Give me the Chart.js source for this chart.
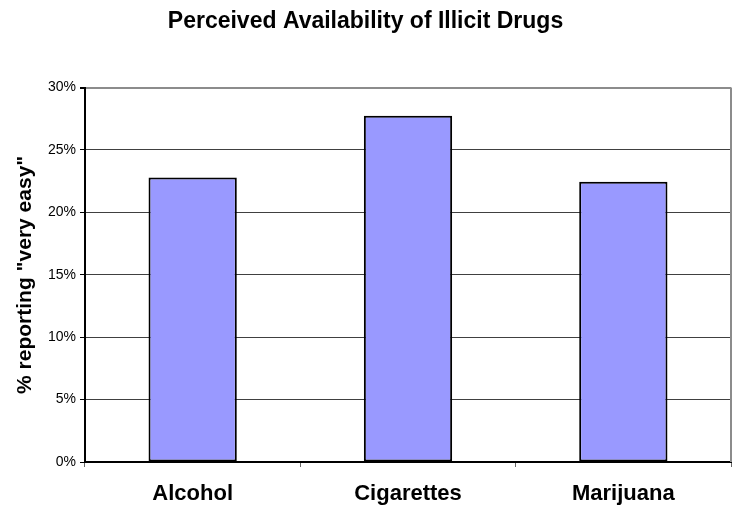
<!DOCTYPE html>
<html>
<head>
<meta charset="utf-8">
<script src="https://cdn.jsdelivr.net/npm/chart.js@4"></script>
<style>
    html, body { margin: 0; padding: 0; background: #fff; }
    #wrap { width: 737px; height: 506px; }
</style>
</head>
<body>
<div id="wrap"><canvas id="drugChart"></canvas></div>
<script>
var categories = ["Alcohol", "Cigarettes", "Marijuana"];
var veryEasy = [22.8, 27.75, 22.45];
var yTicks = [0, 5, 10, 15, 20, 25, 30];

// frame on the right side of the plot, like the excel chart
var frameRight = {
    id: 'frameRight',
    afterDatasetsDraw: function (chart) {
        var a = chart.chartArea, ctx = chart.ctx;
        ctx.save();
        ctx.strokeStyle = '#8c8c8c';
        ctx.lineWidth = 2;
        ctx.beginPath();
        ctx.moveTo(a.right, a.top);
        ctx.lineTo(a.right, a.bottom);
        ctx.stroke();
        ctx.restore();
    }
};

var ctx = document.getElementById("drugChart");
var drugChart = new Chart(ctx, {
    type: 'bar',
    data: {
        labels: categories,
        datasets: [{
            label: '% reporting "very easy"',
            data: veryEasy,
            backgroundColor: '#9999ff',
            borderColor: '#000000',
            borderWidth: 2,
            borderSkipped: false,
            categoryPercentage: 1,
            barPercentage: 0.41
        }]
    },
    options: {
        responsive: true,
        maintainAspectRatio: false,
        animation: false,
        layout: { padding: { left: 0, right: 6, top: 0, bottom: 0 } },
        plugins: {
            legend: { display: false },
            tooltip: { enabled: false },
            title: {
                display: true,
                text: 'Perceived Availability of Illicit Drugs',
                color: '#000',
                font: { family: 'Liberation Sans, Arial', size: 23, weight: 'bold' },
                padding: { top: 8, bottom: 52 }
            }
        },
        scales: {
            x: {
                grid: {
                    drawOnChartArea: false,
                    tickLength: 5,
                    tickColor: '#666'
                },
                border: { color: '#000', width: 2 },
                ticks: {
                    color: '#000',
                    padding: 14,
                    font: { family: 'Liberation Sans, Arial', size: 22, weight: 'bold' }
                },
                afterFit: function (scale) { scale.height = 44; }
            },
            y: {
                min: 0,
                max: 30,
                afterBuildTicks: function (scale) {
                    scale.ticks = yTicks.map(function (v) { return { value: v }; });
                },
                grid: {
                    color: function (c) { return c.tick && c.tick.value === 30 ? '#8c8c8c' : '#404040'; },
                    lineWidth: function (c) { return c.tick && c.tick.value === 30 ? 2 : 1; },
                    tickLength: 5,
                    tickColor: '#000'
                },
                border: { color: '#000', width: 2 },
                ticks: {
                    color: '#000',
                    padding: 4,
                    font: { family: 'Liberation Sans, Arial', size: 14 },
                    callback: function (v) { return v + '%'; }
                },
                title: {
                    display: true,
                    text: '% reporting "very easy"',
                    color: '#000',
                    font: { family: 'Liberation Sans, Arial', size: 21, weight: 'bold' },
                    padding: { top: 13, bottom: 0 }
                },
                afterFit: function (scale) { scale.width = 85; }
            }
        }
    },
    plugins: [frameRight]
});
</script>
</body>
</html>
